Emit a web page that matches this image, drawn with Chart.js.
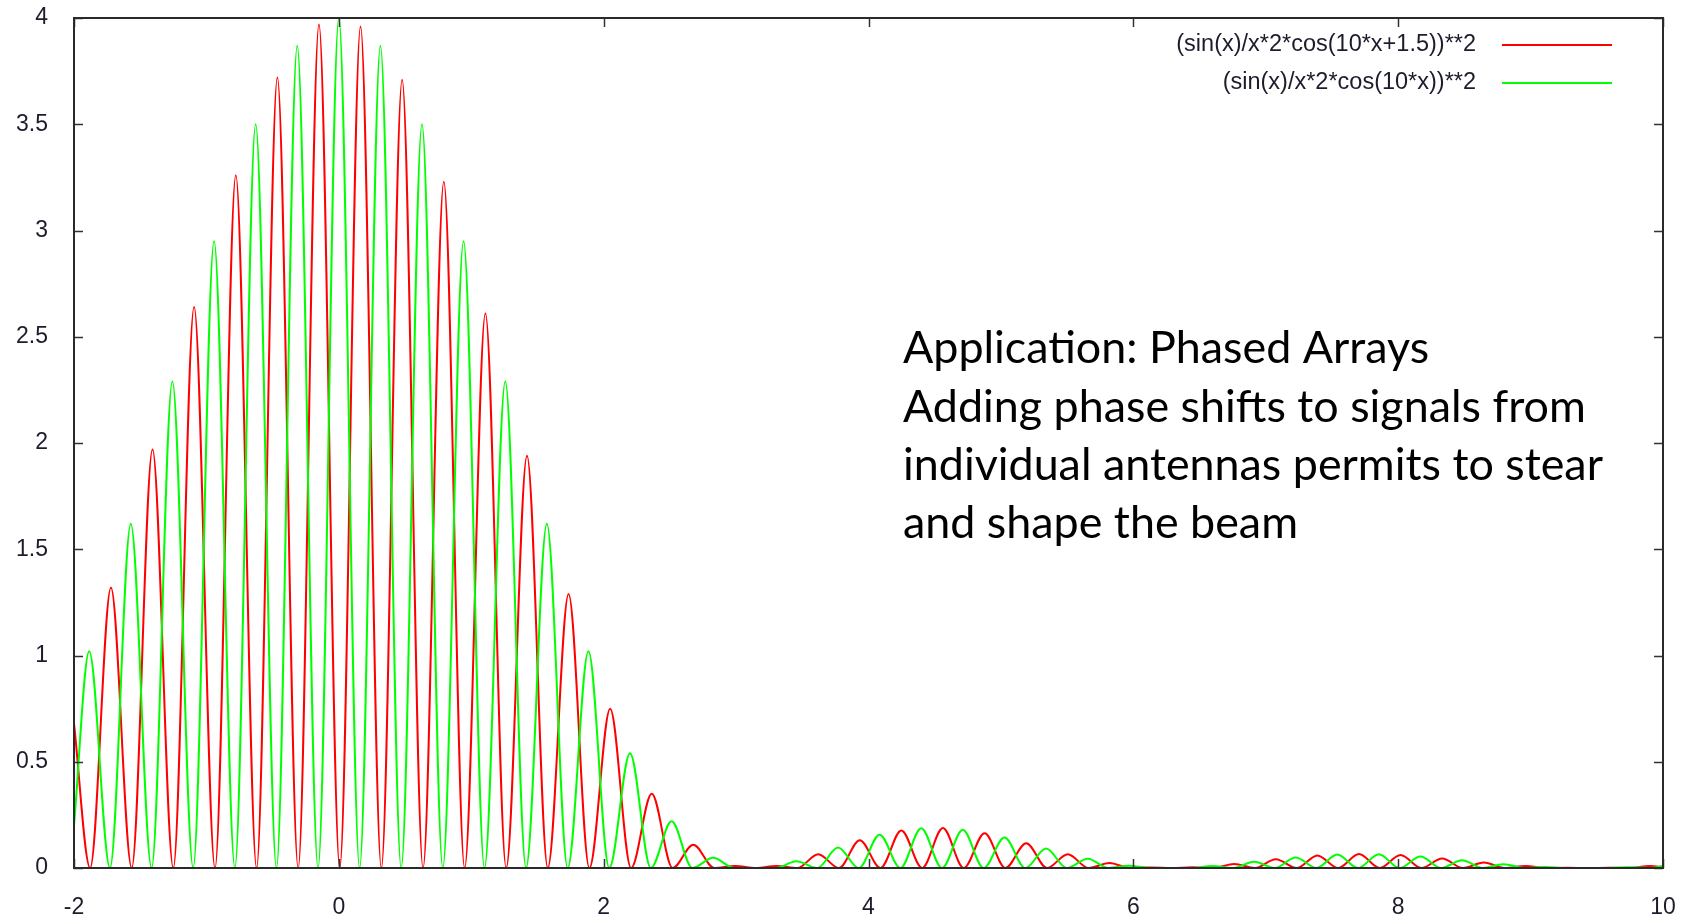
<!DOCTYPE html>
<html>
<head>
<meta charset="utf-8">
<title>Phased arrays</title>
<script src="https://cdn.jsdelivr.net/npm/chart.js@4.4.1/dist/chart.umd.min.js"></script>
<style>
    body { margin: 0; background: #fff; }
    #wrap { width: 1694px; height: 920px; position: relative; }
</style>
</head>
<body>
<div id="wrap"><canvas id="plot" width="1694" height="920"></canvas></div>
<script>
// Values: peaks and zero crossings of each curve
const redX = [-2.000, -1.878, -1.721, -1.564, -1.407, -1.250, -1.093, -0.935, -0.778, -0.621,
    -0.464, -0.307, -0.150, 0.007, 0.164, 0.321, 0.478, 0.636, 0.793, 0.950,
    1.107, 1.264, 1.421, 1.578, 1.735, 1.892, 2.049, 2.207, 2.363, 2.521,
    2.677, 2.835, 2.992, 3.149, 3.306, 3.463, 3.620, 3.777, 3.934, 4.091,
    4.248, 4.405, 4.562, 4.719, 4.877, 5.034, 5.191, 5.348, 5.505, 5.662,
    5.819, 5.976, 6.133, 6.290, 6.447, 6.604, 6.762, 6.919, 7.076, 7.233,
    7.390, 7.547, 7.704, 7.861, 8.018, 8.175, 8.332, 8.489, 8.647, 8.803,
    8.961, 9.118, 9.275, 9.432, 9.589, 9.746, 9.903, 10.000];
const redY = [0.68, 0, 1.32, 0, 1.97, 0, 2.64, 0, 3.26, 0,
    3.72, 0, 3.97, 0, 3.96, 0, 3.71, 0, 3.23, 0,
    2.61, 0, 1.94, 0, 1.29, 0, 0.75, 0, 0.35, 0,
    0.11, 0, 0.01, 0, 0.01, 0, 0.065, 0, 0.131, 0,
    0.177, 0, 0.188, 0, 0.164, 0, 0.117, 0, 0.065, 0,
    0.024, 0, 0.002, 0, 0.003, 0, 0.019, 0, 0.041, 0,
    0.059, 0, 0.066, 0, 0.061, 0, 0.045, 0, 0.026, 0,
    0.010, 0, 0.001, 0, 0.001, 0, 0.009, 0.004];

const greenX = [-2.000, -1.885, -1.728, -1.571, -1.414, -1.257, -1.100, -0.942, -0.785, -0.628,
    -0.471, -0.314, -0.157, 0, 0.157, 0.314, 0.471, 0.628, 0.785, 0.942,
    1.100, 1.257, 1.414, 1.571, 1.728, 1.885, 2.042, 2.199, 2.356, 2.513,
    2.670, 2.827, 2.985, 3.142, 3.299, 3.456, 3.613, 3.770, 3.927, 4.084,
    4.241, 4.398, 4.555, 4.712, 4.869, 5.027, 5.184, 5.341, 5.498, 5.655,
    5.812, 5.969, 6.126, 6.283, 6.440, 6.597, 6.754, 6.912, 7.069, 7.226,
    7.383, 7.540, 7.697, 7.854, 8.011, 8.168, 8.325, 8.482, 8.639, 8.796,
    8.954, 9.111, 9.268, 9.425, 9.582, 9.739, 9.896, 10.000];
const greenY = [0.2, 1.02, 0, 1.62, 0, 2.29, 0, 2.95, 0, 3.50,
    0, 3.87, 0, 4.00, 0, 3.87, 0, 3.50, 0, 2.95,
    0, 2.29, 0, 1.62, 0, 1.02, 0, 0.54, 0, 0.22,
    0, 0.048, 0, 0, 0, 0.032, 0, 0.097, 0, 0.157,
    0, 0.187, 0, 0.180, 0, 0.143, 0, 0.092, 0, 0.043,
    0, 0.011, 0, 0, 0, 0.009, 0, 0.029, 0, 0.050,
    0, 0.064, 0, 0.065, 0, 0.054, 0, 0.036, 0, 0.018,
    0, 0.005, 0, 0, 0, 0.004, 0, 0.009];

const xTicks = [-2, 0, 2, 4, 6, 8, 10];
const yTicks = [0, 0.5, 1, 1.5, 2, 2.5, 3, 3.5, 4];
const legendLabels = ['(sin(x)/x*2*cos(10*x+1.5))**2', '(sin(x)/x*2*cos(10*x))**2'];
const noteLines = [
    'Application: Phased Arrays',
    'Adding phase shifts to signals from',
    'individual antennas permits to stear',
    'and shape the beam'
];

const RED = '#ff0000';
const GREEN = '#00ff00';
const TEXT = '#1c1c2c';
const LABEL_FONT = '"Liberation Sans", Arial, sans-serif';

function toPoints(xs, ys) {
    return xs.map((x, i) => ({ x: x, y: ys[i] }));
}

// gnuplot style frame: box border with inward ticks on all four sides
const framePlugin = {
    id: 'frame',
    afterDatasetsDraw(chart) {
        const ctx = chart.ctx;
        const a = chart.chartArea;
        const xs = chart.scales.x, ys = chart.scales.y;
        const len = 9;
        ctx.save();
        ctx.strokeStyle = '#333';
        ctx.lineWidth = 1.5;
        ctx.beginPath();
        xTicks.forEach(v => {
            const px = Math.round(xs.getPixelForValue(v)) + 0.5;
            ctx.moveTo(px, a.bottom); ctx.lineTo(px, a.bottom - len);
            ctx.moveTo(px, a.top); ctx.lineTo(px, a.top + len);
        });
        yTicks.forEach(v => {
            const py = Math.round(ys.getPixelForValue(v)) + 0.5;
            ctx.moveTo(a.left, py); ctx.lineTo(a.left + len, py);
            ctx.moveTo(a.right, py); ctx.lineTo(a.right - len, py);
        });
        ctx.stroke();
        ctx.lineWidth = 2;
        ctx.strokeStyle = '#2a2a2a';
        ctx.strokeRect(a.left, a.top, a.right - a.left, a.bottom - a.top);
        ctx.restore();
    }
};

const legendPlugin = {
    id: 'gpLegend',
    afterDraw(chart) {
        const ctx = chart.ctx;
        const colors = [RED, GREEN];
        const rows = [45, 83];
        ctx.save();
        ctx.font = '23.5px ' + LABEL_FONT;
        ctx.textAlign = 'right';
        ctx.textBaseline = 'middle';
        legendLabels.forEach((label, i) => {
            ctx.fillStyle = TEXT;
            ctx.fillText(label, 1476, rows[i]);
            ctx.strokeStyle = colors[i];
            ctx.lineWidth = 2;
            ctx.beginPath();
            ctx.moveTo(1502, rows[i]);
            ctx.lineTo(1612, rows[i]);
            ctx.stroke();
        });
        ctx.restore();
    }
};

const notePlugin = {
    id: 'note',
    afterDraw(chart) {
        const ctx = chart.ctx;
        ctx.save();
        // fit the widest line to the width it has in the picture
        let size = 44;
        ctx.font = size + 'px Lato, "Open Sans", sans-serif';
        const widest = Math.max(...noteLines.map(l => ctx.measureText(l).width));
        size = size * 700 / widest;
        ctx.font = size + 'px Lato, "Open Sans", sans-serif';
        ctx.fillStyle = '#000';
        ctx.textAlign = 'left';
        ctx.textBaseline = 'middle';
        noteLines.forEach((line, i) => {
            ctx.fillText(line, 903, 349 + i * 58.3);
        });
        ctx.restore();
    }
};

window.onload = function() {
    const ctx = document.getElementById('plot').getContext('2d');
    new Chart(ctx, {
        type: 'line',
        data: {
            datasets: [{
                label: legendLabels[0],
                data: toPoints(redX, redY),
                borderColor: RED,
                borderWidth: 2,
                cubicInterpolationMode: 'monotone',
                pointRadius: 0,
                fill: false,
                order: 1
            }, {
                label: legendLabels[1],
                data: toPoints(greenX, greenY),
                borderColor: GREEN,
                borderWidth: 2,
                cubicInterpolationMode: 'monotone',
                pointRadius: 0,
                fill: false,
                order: 0
            }]
        },
        options: {
            responsive: false,
            animation: false,
            layout: { padding: { top: 18, right: 31, left: 0, bottom: 0 } },
            plugins: {
                legend: { display: false },
                tooltip: { enabled: false }
            },
            scales: {
                x: {
                    type: 'linear',
                    min: -2,
                    max: 10,
                    afterFit: s => {
                        s.height = 52;
                        s.paddingLeft = 0;
                        s.paddingRight = 0;
                    },
                    afterBuildTicks: s => { s.ticks = xTicks.map(v => ({ value: v })); },
                    grid: { display: false, drawTicks: false },
                    border: { display: false },
                    ticks: {
                        padding: 26,
                        maxRotation: 0,
                        color: TEXT,
                        font: { family: LABEL_FONT, size: 23 },
                        callback: v => String(v)
                    }
                },
                y: {
                    min: 0,
                    max: 4,
                    afterFit: s => {
                        s.width = 74;
                        s.paddingTop = 0;
                        s.paddingBottom = 0;
                    },
                    afterBuildTicks: s => { s.ticks = yTicks.map(v => ({ value: v })); },
                    grid: { display: false, drawTicks: false },
                    border: { display: false },
                    ticks: {
                        padding: 26,
                        color: TEXT,
                        font: { family: LABEL_FONT, size: 23 },
                        callback: v => String(v)
                    }
                }
            }
        },
        plugins: [framePlugin, legendPlugin, notePlugin]
    });
};
</script>
</body>
</html>
